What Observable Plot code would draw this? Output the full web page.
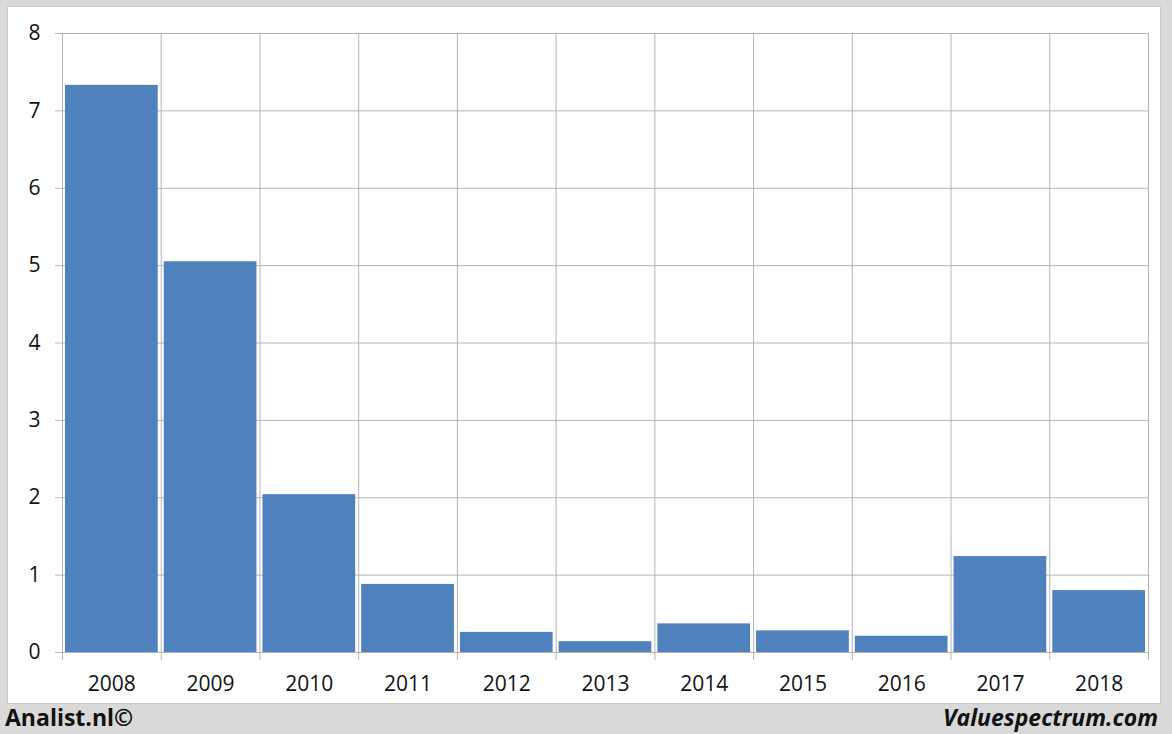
<!DOCTYPE html>
<html>
<head>
<meta charset="utf-8">
<script src="https://cdn.jsdelivr.net/npm/d3@7"></script>
<script src="https://cdn.jsdelivr.net/npm/@observablehq/plot@0.6"></script>
<style>
  html, body { margin: 0; padding: 0; }
  body { width: 1172px; height: 734px; background: #d9d9d9; position: relative; overflow: hidden; font-family: "Open Sans", sans-serif; }
  #panel { position: absolute; left: 8px; top: 7px; width: 1152px; height: 696px; background: #fff; box-shadow: 0 0 0 1px #c8c8c8; }
  #panel svg { display: block; }
  #left { position: absolute; left: 5px; top: 701px; font-weight: bold; font-size: 23px; color: #111; }
  #right { position: absolute; right: 14px; top: 701px; font-weight: bold; font-style: italic; font-size: 23px; color: #111; }
</style>
</head>
<body>
<div id="panel"></div>
<div id="left">Analist.nl©</div>
<div id="right">Valuespectrum.com</div>
<script>
const years = ["2008","2009","2010","2011","2012","2013","2014","2015","2016","2017","2018"];
const values = [7.33, 5.05, 2.04, 0.88, 0.26, 0.14, 0.37, 0.28, 0.21, 1.24, 0.80];
const yTicks = [0, 1, 2, 3, 4, 5, 6, 7, 8];

const data = years.map((y, i) => ({year: y, value: values[i]}));
const W = 1152, H = 696, ml = 54, mr = 12, mt = 26, mb = 51;
const bw = (W - ml - mr) / years.length;
const grid = "#b4b4b4";

const chart = Plot.plot({
  width: W, height: H,
  marginLeft: ml, marginRight: mr, marginTop: mt, marginBottom: mb,
  style: {fontFamily: "Open Sans, sans-serif", fontSize: "21px", color: "#111", background: "#fff"},
  x: {domain: years, padding: 0, round: false, label: null},
  y: {domain: [0, 8], label: null},
  marks: [
    Plot.ruleY(yTicks, {stroke: grid, strokeWidth: 1, insetLeft: -7}),
    Plot.ruleX(years, {x: d => d, dx: -bw / 2, stroke: grid, strokeWidth: 1, insetBottom: -8}),
    Plot.ruleX([years[years.length - 1]], {x: d => d, dx: bw / 2, stroke: grid, strokeWidth: 1, insetBottom: -8}),
    Plot.barY(data, {x: "year", y: "value", fill: "#4f81bd", insetLeft: 3, insetRight: 3}),
    Plot.axisX({tickSize: 0, tickPadding: 24}),
    Plot.axisY({ticks: yTicks, tickSize: 0, tickPadding: 22})
  ]
});
document.getElementById("panel").appendChild(chart);
</script>
</body>
</html>
